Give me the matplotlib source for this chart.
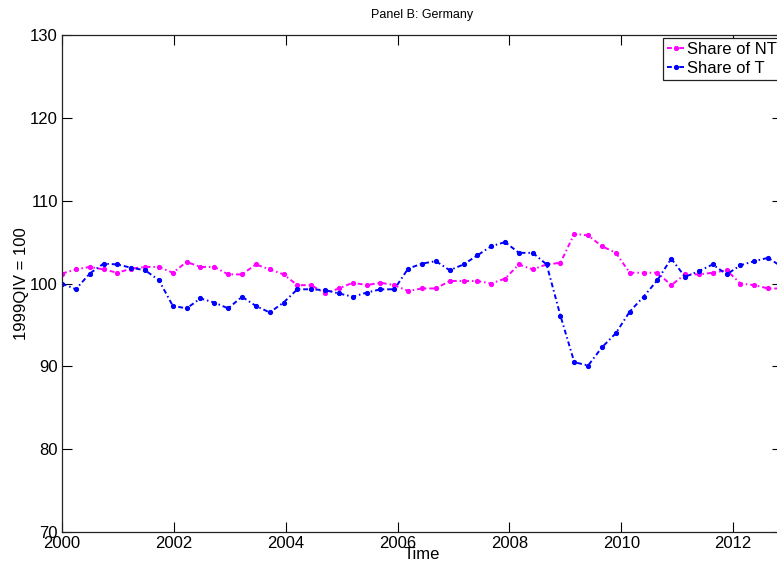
import numpy as np
import matplotlib
matplotlib.use("Agg")
import matplotlib.pyplot as plt

plt.rcParams['font.family'] = ['Liberation Sans', 'DejaVu Sans']

# Quarterly data, first point = 1999QIV (=100)
share_T = [100.0, 99.3, 101.2, 102.4, 102.3, 101.9, 101.6, 100.4, 97.3, 97.0,
           98.2, 97.7, 97.0, 98.4, 97.3, 96.5, 97.7, 99.3, 99.3, 99.2,
           98.8, 98.4, 98.9, 99.3, 99.3, 101.8, 102.4, 102.7, 101.6, 102.3,
           103.4, 104.5, 105.0, 103.7, 103.7, 102.3, 96.1, 90.5, 90.1, 92.3,
           94.0, 96.6, 98.4, 100.4, 103.0, 100.8, 101.5, 102.3, 101.1, 102.2,
           102.7, 103.1, 102.0]
share_NT = [101.2, 101.7, 102.0, 101.7, 101.3, 101.8, 102.0, 102.0, 101.3, 102.6,
            102.0, 102.0, 101.1, 101.1, 102.3, 101.7, 101.1, 99.8, 99.8, 98.8,
            99.4, 100.1, 99.8, 100.1, 99.8, 99.1, 99.4, 99.4, 100.3, 100.3,
            100.3, 100.0, 100.6, 102.3, 101.7, 102.3, 102.5, 106.0, 105.8, 104.5,
            103.7, 101.3, 101.3, 101.3, 99.8, 101.1, 101.1, 101.3, 101.6, 100.0,
            99.8, 99.4, 99.4]
start_year = 2000
quarter_step = 0.2476
time = start_year + quarter_step * np.arange(len(share_T))

x_ticks = [2000, 2002, 2004, 2006, 2008, 2010, 2012]
y_ticks = [70, 80, 90, 100, 110, 120, 130]

fig = plt.figure(figsize=(7.77, 5.69), dpi=100)
ax = fig.add_axes([62/777, 1 - 532/569, 720/777, 497/569])

style = (0, (2.5, 1.5, 0.8, 1.5))
ax.plot(time, share_NT, color='#ff00ff', linestyle=style, lw=1.4,
        marker='.', markersize=5.5, label='Share of NT')
ax.plot(time, share_T, color='#0000ff', linestyle=style, lw=1.4,
        marker='.', markersize=5.5, label='Share of T')

ax.set_xlim(time[0], time[-1])
ax.set_ylim(70, 130)
ax.set_xticks(x_ticks)
ax.set_yticks(y_ticks)
ax.tick_params(direction='in', length=7, width=0.8, top=True, right=True,
               labelsize=12, pad=3)
for s in ax.spines.values():
    s.set_linewidth(0.9)
    s.set_color('#222222')

ax.set_title('Panel B: Germany', fontsize=9, pad=12)
ax.set_xlabel('Time', fontsize=12, labelpad=-3)
ax.set_ylabel('1999QIV = 100', fontsize=12, labelpad=1)

leg = ax.legend(loc='upper right', bbox_to_anchor=(0.999, 0.994), borderaxespad=0,
                fontsize=12, handlelength=1.0, handletextpad=0.2,
                labelspacing=0.25, borderpad=0.25, fancybox=False, framealpha=1)
leg.get_frame().set_edgecolor('#222222')
leg.get_frame().set_linewidth(0.9)

fig.savefig('out.png', dpi=100)
